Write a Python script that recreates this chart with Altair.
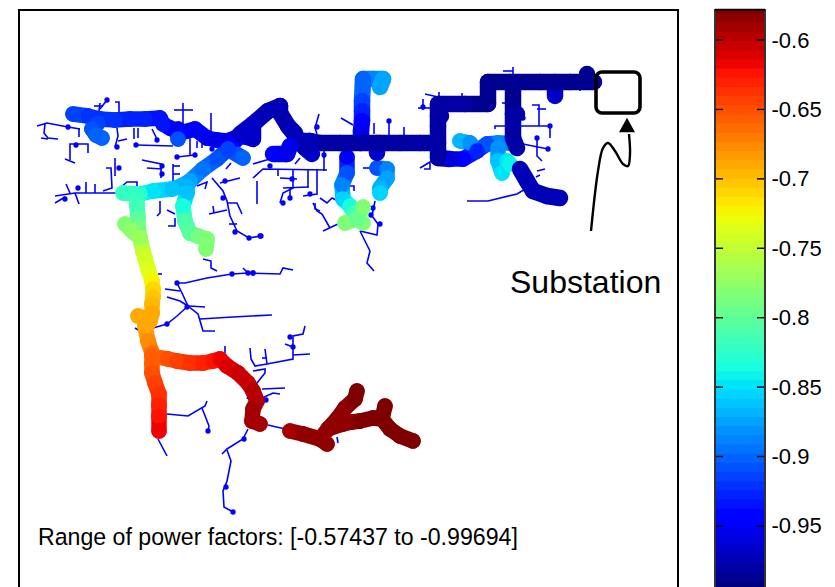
import altair as alt
import numpy as np
import pandas as pd

PF_MIN, PF_MAX = -0.99694, -0.57437
TICKS = [-0.6, -0.65, -0.7, -0.75, -0.8, -0.85, -0.9, -0.95]

# jet colormap anchors
T = np.arange(64) / 63
R = np.interp(T, [0, .35, .66, .89, 1], [0, 0, 1, 1, .5])
G = np.interp(T, [0, .125, .375, .64, .91, 1], [0, 0, 1, 1, 0, 0])
B = np.interp(T, [0, .11, .34, .65, 1], [.5, 1, 1, 0, 0])
JET = ["#%02x%02x%02x" % (int(r * 255), int(g * 255), int(b * 255)) for r, g, b in zip(R, G, B)]

THIN_LINES = [
    [(37,125),(47,122),(68,126),(80,128)], [(45,123),(44,132),(48,137),(58,138)], [(41,137),(48,138)],
    [(79,127),(79,136)], [(70,157),(70,143),(88,143),(88,152)], [(65,158),(75,162)], [(70,157),(70,159)],
    [(107,99),(100,108)], [(94,105),(103,105)], [(100,102),(99,110)], [(115,101),(119,101),(119,113)],
    [(117,127),(118,135),(115,146)], [(118,140),(127,138)], [(134,127),(134,138)], [(138,127),(138,137)],
    [(136,144),(173,145)], [(152,128),(158,140)], [(183,102),(183,123)], [(174,109),(193,109)],
    [(211,112),(211,132)], [(190,130),(190,155)], [(177,156),(195,154)], [(197,140),(197,147)], [(202,142),(202,147)],
    [(142,159),(161,163),(161,177)], [(147,167),(162,168)], [(173,163),(173,183)], [(173,165),(180,165)], [(173,173),(180,173)],
    [(160,200),(160,212),(157,215)], [(168,225),(175,225),(175,217)], [(167,209),(175,213)],
    [(55,195),(75,192),(117,192)], [(66,183),(70,192)], [(75,192),(79,203)], [(55,202),(65,196)],
    [(86,181),(86,192)], [(95,183),(95,192)], [(103,190),(112,187),(111,167),(106,167)], [(115,157),(115,175)],
    [(120,187),(127,181),(137,181),(137,187)],
    [(212,177),(223,190),(227,200),(230,215),(237,230),(249,237),(261,235)],
    [(209,213),(227,209)], [(213,205),(214,212)], [(227,202),(237,202),(242,213)], [(229,223),(237,223)],
    [(220,182),(240,177)], [(197,185),(207,181),(205,188)], [(226,168),(231,162)],
    [(253,177),(263,168),(327,169)], [(253,163),(270,158)], [(278,168),(278,175)], [(257,180),(257,203)],
    [(280,177),(297,178)], [(293,168),(293,187),(283,192),(280,202)], [(290,187),(290,197)], [(308,187),(308,168)],
    [(283,187),(308,186)], [(303,195),(317,193),(317,168)], [(315,202),(315,208),(320,210)],
    [(324,150),(324,170)], [(300,157),(295,163)],
    [(313,202),(317,210),(322,213),(330,227)], [(323,230),(338,223)], [(320,197),(327,202),(332,197),(338,200)],
    [(360,230),(377,234),(378,223),(372,215)], [(375,200),(372,215)], [(360,230),(370,250),(367,262),(374,270)],
    [(341,117),(353,124)], [(319,113),(315,127),(317,133)], [(374,122),(374,133)], [(389,120),(389,135)], [(404,126),(404,135)],
    [(363,167),(373,167)], [(350,185),(354,185),(354,190)],
    [(425,93),(438,96)], [(439,91),(439,97)], [(418,107),(432,107)], [(423,98),(423,109)], [(462,92),(462,97)],
    [(420,167),(430,161),(430,168),(424,168)], [(503,70),(513,70)], [(513,66),(513,73)], [(580,85),(580,90)],
    [(502,102),(510,102)], [(532,104),(539,104),(539,125)], [(537,108),(546,108)],
    [(495,128),(495,125),(550,125),(550,137)], [(537,137),(537,155),(542,160)], [(523,143),(548,148)],
    [(467,200),(488,200),(517,193),(527,187)], [(537,170),(545,168)], [(536,176),(540,174)],
    [(203,258),(211,260),(211,267),(217,270)],
    [(177,282),(185,282),(207,277),(232,273),(248,272),(280,273),(283,267),(293,269)], [(243,267),(248,272)],
    [(177,282),(182,292),(188,305),(198,313),(203,330),(215,330)], [(165,288),(180,290)], [(167,296),(180,300),(188,305)],
    [(188,305),(177,315),(167,323),(153,327)], [(189,305),(205,306)], [(200,318),(233,316),(272,314)],
    [(135,327),(140,330)], [(158,273),(162,273)], [(225,345),(225,352)],
    [(250,347),(251,358),(255,365),(267,363),(293,358),(293,335),(303,333),(305,325)], [(285,343),(293,346)],
    [(293,354),(310,353)], [(265,348),(267,363)], [(262,357),(267,357)],
    [(253,370),(265,368),(265,372),(257,382),(250,390),(247,398)],
    [(262,388),(285,387)], [(262,397),(273,392),(280,393)], [(268,424),(285,428)],
    [(167,413),(188,415),(205,405),(207,400)], [(202,407),(209,425),(208,430)], [(158,438),(167,455)],
    [(248,428),(243,438),(227,448),(222,453)], [(227,449),(231,460),(227,480),(223,490),(224,506),(233,511)],
    [(337,436),(338,442)],
]

DOT_X = [68,76,107,117,136,157,177,195,212,162,162,119,78,65,235,249,261,223,225,270,292,283,290,310,324,317,389,371,380,373,423,523,550,537,548,232,248,253,177,187,167,290,293,266,208,244,226,233,260,253]
DOT_Y = [126,144,99,146,144,139,156,154,148,165,173,167,187,198,231,237,235,197,180,165,178,202,197,193,154,126,120,214,223,207,106,117,125,137,148,273,272,272,282,306,323,336,346,399,430,438,486,511,235,272]

BEAD_BRANCHES = [
    # (x, y, power factor): strands where the single markers show
    [(253,138,-.967),(240,135,-.963),(227,140,-.957),(217,139,-.954),(207,137,-.951),(195,128,-.948),(180,132,-.942),(170,127,-.938),(163,123,-.935),(160,117,-.933),(145,118,-.930),(130,118,-.927),(115,119,-.924),(100,118,-.921),(88,115,-.919),(73,113,-.915)],
    [(98,122,-.914),(92,128,-.908),(96,134,-.903),(102,137,-.900)],
    [(178,128,-.940),(178,138,-.905)],
    [(237,138,-.950),(228,148,-.920),(217,158,-.908),(203,168,-.897),(190,180,-.878),(181,185,-.870),(172,188,-.864),(153,190,-.848),(140,193,-.830),(123,192,-.820)],
    [(228,148,-.915),(243,157,-.900)],
    [(187,186,-.870),(187,192,-.860),(183,205,-.838),(185,220,-.812),(190,232,-.800),(198,235,-.790),(207,238,-.785),(206,248,-.780)],
    [(137,195,-.825),(137,205,-.816),(138,217,-.800),(138,226,-.790),(140,237,-.770),(143,250,-.752),(145,257,-.745),(148,268,-.735),(152,280,-.722),(153,288,-.712),(153,296,-.705),(152,303,-.698),(152,312,-.693),(150,320,-.690),(145,325,-.687),(148,340,-.675),(152,352,-.665),(152,362,-.657),(152,372,-.650),(155,382,-.643),(159,393,-.635),(159,404,-.628),(159,415,-.621),(159,430,-.616)],
    [(125,223,-.785),(132,230,-.778),(140,237,-.768)],
    [(138,315,-.692),(150,320,-.690)],
    [(152,355,-.660),(168,358,-.648),(177,360,-.642),(190,362,-.636),(203,362,-.630),(213,360,-.625),(220,358,-.619),(227,365,-.612),(238,372,-.606),(248,382,-.602),(253,390,-.598),(257,400,-.595),(253,408,-.593),(252,420,-.590),(260,423,-.588)],
    [(290,430,-.588),(303,433,-.586),(320,438,-.585),(327,443,-.583)],
    [(320,438,-.585),(328,428,-.586),(337,418,-.584),(345,407,-.581),(355,398,-.579),(357,390,-.578)],
    [(328,428,-.586),(343,423,-.583),(352,421,-.581),(360,420,-.579),(373,417,-.577),(382,418,-.575),(385,405,-.574)],
    [(382,418,-.575),(390,428,-.575),(400,435,-.577),(413,440,-.578)],
    [(347,156,-.950),(347,172,-.905),(342,184,-.890),(343,198,-.852),(350,205,-.835),(354,212,-.815),(357,218,-.800)],
    [(345,222,-.782),(357,218,-.790),(363,222,-.782)],
    [(357,218,-.795),(363,206,-.782)],
    [(377,167,-.905),(387,168,-.890),(387,177,-.878),(380,187,-.866),(380,192,-.852)],
    [(510,142,-.885),(498,142,-.890),(487,143,-.905),(477,150,-.925)],
    [(498,147,-.882),(498,160,-.862),(502,172,-.848)],
    [(507,160,-.850),(510,163,-.845)],
    [(460,140,-.866),(470,142,-.883),(477,150,-.925),(463,158,-.950),(450,158,-.958)],
]

SMOOTH_BRANCHES = [
    # strands where the markers merge into a solid band, drawn on top
    [(383,78,-.875),(373,78,-.884),(363,78,-.895),(362,100,-.912),(362,110,-.920),(362,120,-.935),(361,130,-.945),(361,142,-.960)],
    [(383,78,-.875),(380,86,-.868)],
    [(377,142,-.970),(377,152,-.958)],
    [(450,158,-.958),(438,157,-.968)],
    [(555,95,-.955),(555,81,-.985)],
    [(438,142,-.982),(420,142,-.981),(400,142,-.980),(380,142,-.980),(360,142,-.979),(340,142,-.978),(320,142,-.978),(310,140,-.977),(300,140,-.976)],
    [(312,153,-.968),(305,147,-.972),(298,138,-.975),(288,125,-.976),(280,112,-.977),(280,105,-.978),(268,110,-.975),(253,123,-.970),(240,133,-.963)],
    [(295,132,-.975),(288,125,-.976)],
    [(273,153,-.945),(287,153,-.950),(290,145,-.960)],
    [(253,125,-.970),(253,138,-.967)],
    [(594,81,-.988),(570,81,-.987),(540,81,-.986),(510,81,-.985),(488,81,-.985),(488,103,-.984),(465,103,-.984),(438,103,-.983),(438,125,-.983),(438,157,-.975)],
    [(438,115,-.985),(441,115,-.980)],
    [(587,73,-.985),(587,74,-.985)],
    [(513,81,-.985),(513,113,-.984),(513,137,-.982),(517,147,-.980)],
    [(513,113,-.980),(517,113,-.980)],
    [(520,168,-.978),(527,180,-.975),(533,190,-.974),(547,195,-.973),(560,197,-.972)],
]

ARROW_X = [591,598,603,608,615,623,628,630,629]
ARROW_Y = [230,170,147,142,150,163,165,153,133]

X_DOMAIN = [19, 678]
Y_DOMAIN = [587, 8]
x_scale = alt.Scale(domain=X_DOMAIN, nice=False, zero=False)
y_scale = alt.Scale(domain=Y_DOMAIN, nice=False, zero=False)
xe = alt.X("x:Q", scale=x_scale, axis=None)
ye = alt.Y("y:Q", scale=y_scale, axis=None)
pf_color = alt.Color("pf:Q", scale=alt.Scale(type="quantize", domain=[PF_MIN, PF_MAX], range=JET), legend=None)

thin = pd.DataFrame([
    {"id": i, "o": j, "x": p[0], "y": p[1]}
    for i, line in enumerate(THIN_LINES) for j, p in enumerate(line)
])
lines = alt.Chart(thin).mark_line(color="#0000ff", strokeWidth=1.6).encode(
    x=xe, y=ye, detail="id:N", order="o:Q")
dots = alt.Chart(pd.DataFrame({"x": DOT_X, "y": DOT_Y})).mark_circle(
    color="#0000ff", size=28, opacity=1).encode(x=xe, y=ye)


def segments(branches):
    return pd.DataFrame([
        {"x": p[0], "y": p[1], "x2": q[0], "y2": q[1], "pf": (p[2] + q[2]) / 2}
        for b in branches for p, q in zip(b[:-1], b[1:])
    ])


bead_links = alt.Chart(segments(BEAD_BRANCHES)).mark_rule(strokeWidth=15.5, strokeCap="round", opacity=1).encode(
    x=xe, y=ye, x2="x2:Q", y2="y2:Q", color=pf_color)
beads = alt.Chart(pd.DataFrame([p for b in BEAD_BRANCHES for p in b], columns=["x", "y", "pf"])).mark_circle(
    size=240, opacity=1).encode(x=xe, y=ye, color=pf_color)
bands_main = alt.Chart(segments(SMOOTH_BRANCHES)).mark_rule(strokeWidth=16.5, strokeCap="round", opacity=1).encode(
    x=xe, y=ye, x2="x2:Q", y2="y2:Q", color=pf_color)

box = alt.Chart(pd.DataFrame({"x": [596], "x2": [640], "y": [71], "y2": [112]})).mark_rect(
    fill=None, stroke="black", strokeWidth=3.6, cornerRadius=6).encode(
    x=xe, x2="x2:Q", y=ye, y2="y2:Q")

arrow_df = pd.DataFrame({"x": ARROW_X, "y": ARROW_Y, "o": list(range(len(ARROW_X)))})
arrow = alt.Chart(arrow_df).mark_line(color="black", strokeWidth=2.4, interpolate="catmull-rom").encode(
    x=xe, y=ye, order="o:Q")
head = alt.Chart(pd.DataFrame({"x": [627], "y": [124]})).mark_point(
    shape="M0,-0.9L1,0.9L-1,0.9Z", filled=True, color="black", opacity=1, size=256).encode(x=xe, y=ye)

label1 = alt.Chart(pd.DataFrame({"x": [510], "y": [292], "t": ["Substation"]})).mark_text(
    font="Liberation Sans", fontSize=32, align="left", baseline="alphabetic", color="black").encode(x=xe, y=ye, text="t:N")
label2 = alt.Chart(pd.DataFrame({"x": [38], "y": [544], "t": ["Range of power factors: [-0.57437 to -0.99694]"]})).mark_text(
    font="Liberation Sans", fontSize=23.15, align="left", baseline="alphabetic", color="black").encode(x=xe, y=ye, text="t:N")

frame_v = alt.Chart(pd.DataFrame({"x": X_DOMAIN})).mark_rule(color="black", strokeWidth=2).encode(x=xe)
frame_h = alt.Chart(pd.DataFrame({"y": [9]})).mark_rule(color="black", strokeWidth=2).encode(y=ye)

left = alt.layer(lines, dots, bead_links, beads, bands_main, box, arrow, head, label1, label2, frame_v, frame_h).properties(width=659, height=579)

# colour bar
edges = np.linspace(PF_MIN, PF_MAX, 65)
bar_df = pd.DataFrame({"lo": edges[:-1], "hi": edges[1:] + 0.001, "c": JET, "a": 0, "b": 50})
CB_DOMAIN = [-0.99467, -0.57767]
cb_y = alt.Scale(domain=CB_DOMAIN, nice=False, zero=False)
cb_x = alt.Scale(domain=[0, 50], nice=False)
cb_axis = alt.Axis(
    orient="right", values=TICKS, title=None, domain=False, ticks=False, grid=False,
    labelFont="Liberation Sans", labelFontSize=22, labelColor="black", labelPadding=6,
    labelExpr="'' + datum.value")
bands = alt.Chart(bar_df).mark_rect(clip=True).encode(
    x=alt.X("a:Q", scale=cb_x, axis=None), x2="b:Q",
    y=alt.Y("lo:Q", scale=cb_y, axis=cb_axis),
    y2="hi:Q",
    color=alt.Color("c:N", scale=None),
)
tick_df = pd.DataFrame({"v": TICKS * 2, "a": [0] * 8 + [42] * 8, "b": [8] * 8 + [50] * 8, "s": [0] * 8 + [1] * 8})
cb_ticks = alt.Chart(tick_df).mark_rule(color="black", strokeWidth=1.4).encode(
    x=alt.X("a:Q", scale=cb_x, axis=None), x2="b:Q", y=alt.Y("v:Q", scale=cb_y, axis=cb_axis), detail="s:N")
cb_v = alt.Chart(pd.DataFrame({"a": [0, 50]})).mark_rule(color="#333333", strokeWidth=2).encode(
    x=alt.X("a:Q", scale=cb_x, axis=None))
cb_top = alt.Chart(pd.DataFrame({"v": [-0.5783]})).mark_rule(color="black", strokeWidth=2).encode(
    y=alt.Y("v:Q", scale=cb_y, axis=cb_axis))
bar = alt.layer(bands, cb_ticks, cb_v, cb_top).properties(width=50, height=579)

chart = alt.hconcat(left, bar, spacing=35).properties(
    padding={"left": 10, "top": 0, "right": 0, "bottom": 0},
    background="white",
).configure_view(stroke=None)

chart.save("out.html", embed_options={"renderer": "svg", "actions": False})
